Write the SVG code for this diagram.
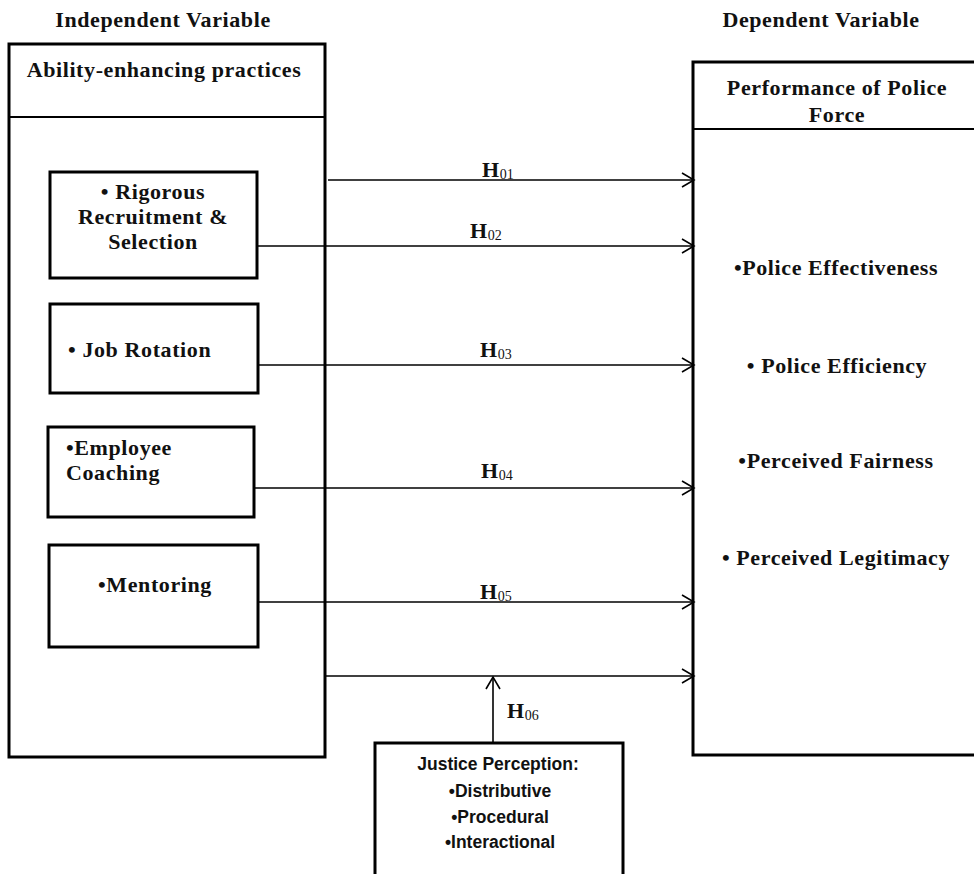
<svg xmlns="http://www.w3.org/2000/svg" width="974" height="874" viewBox="0 0 974 874">
<style>
.box{fill:#fff;stroke:#000;stroke-width:3}
.div{stroke:#000;stroke-width:2}
.con{stroke:#000;stroke-width:1.6;fill:none}
.t{font-family:"Liberation Serif","Times New Roman",serif;font-weight:bold;font-size:22px;letter-spacing:0.6px;fill:#111}
.s{font-family:"Liberation Sans",Arial,sans-serif;font-weight:bold;font-size:17.5px;fill:#111}
.sub{font-size:14px;font-weight:normal;letter-spacing:0}
</style>
<defs>
<marker id="arr" markerUnits="userSpaceOnUse" markerWidth="16" markerHeight="18" viewBox="0 0 16 18" refX="14" refY="9" orient="auto">
<path d="M2,2 L14,9 L2,16" fill="none" stroke="#000" stroke-width="1.6"/>
</marker>
</defs>
<rect width="974" height="874" fill="#fff"/>
<text class="t" x="163" y="27" text-anchor="middle">Independent Variable</text>
<text class="t" x="821" y="27" text-anchor="middle">Dependent Variable</text>
<g id="iv">
<rect class="box" x="9" y="44" width="316" height="713"/>
<line class="div" x1="9" y1="117" x2="325" y2="117"/>
<text class="t" x="164" y="77" text-anchor="middle">Ability-enhancing practices</text>
</g>
<g id="dv">
<rect class="box" x="693" y="62" width="300" height="693"/>
<line class="div" x1="693" y1="129" x2="974" y2="129"/>
<text class="t" x="837" y="95" text-anchor="middle">Performance of Police</text>
<text class="t" x="837" y="122" text-anchor="middle">Force</text>
<text class="t" x="836" y="275" text-anchor="middle">•Police Effectiveness</text>
<text class="t" x="837" y="373" text-anchor="middle">• Police Efficiency</text>
<text class="t" x="836" y="468" text-anchor="middle">•Perceived Fairness</text>
<text class="t" x="836" y="565" text-anchor="middle">• Perceived Legitimacy</text>
</g>
<g id="rr">
<rect class="box" x="50" y="172" width="207" height="106"/>
<text class="t" x="153" y="199" text-anchor="middle">• Rigorous</text>
<text class="t" x="153" y="224" text-anchor="middle">Recruitment &amp;</text>
<text class="t" x="153" y="249" text-anchor="middle">Selection</text>
</g>
<g id="jr">
<rect class="box" x="50" y="304" width="208" height="89"/>
<text class="t" x="68" y="357">• Job Rotation</text>
</g>
<g id="ec">
<rect class="box" x="48" y="427" width="206" height="90"/>
<text class="t" x="66" y="455">•Employee</text>
<text class="t" x="66" y="480">Coaching</text>
</g>
<g id="me">
<rect class="box" x="49" y="545" width="209" height="102"/>
<text class="t" x="155" y="592" text-anchor="middle">•Mentoring</text>
</g>
<g id="jp">
<rect class="box" x="375" y="743" width="248" height="150"/>
<text class="s" x="498" y="770" text-anchor="middle">Justice Perception:</text>
<text class="s" x="500" y="797" text-anchor="middle">•Distributive</text>
<text class="s" x="500" y="823" text-anchor="middle">•Procedural</text>
<text class="s" x="500" y="848" text-anchor="middle">•Interactional</text>
</g>
<g id="connectors">
<line class="con" x1="328" y1="180" x2="694" y2="180" marker-end="url(#arr)"/>
<line class="con" x1="257" y1="246" x2="694" y2="246" marker-end="url(#arr)"/>
<line class="con" x1="258" y1="365" x2="694" y2="365" marker-end="url(#arr)"/>
<line class="con" x1="254" y1="488" x2="694" y2="488" marker-end="url(#arr)"/>
<line class="con" x1="258" y1="602" x2="694" y2="602" marker-end="url(#arr)"/>
<line class="con" x1="326" y1="676" x2="694" y2="676" marker-end="url(#arr)"/>
<line class="con" x1="493" y1="742" x2="493" y2="677" marker-end="url(#arr)"/>
<text class="t" x="482" y="177">H<tspan class="sub" dy="2">01</tspan></text>
<text class="t" x="470" y="238">H<tspan class="sub" dy="2">02</tspan></text>
<text class="t" x="480" y="357">H<tspan class="sub" dy="2">03</tspan></text>
<text class="t" x="481" y="478">H<tspan class="sub" dy="2">04</tspan></text>
<text class="t" x="480" y="599">H<tspan class="sub" dy="2">05</tspan></text>
<text class="t" x="507" y="718">H<tspan class="sub" dy="2">06</tspan></text>
</g>
</svg>
